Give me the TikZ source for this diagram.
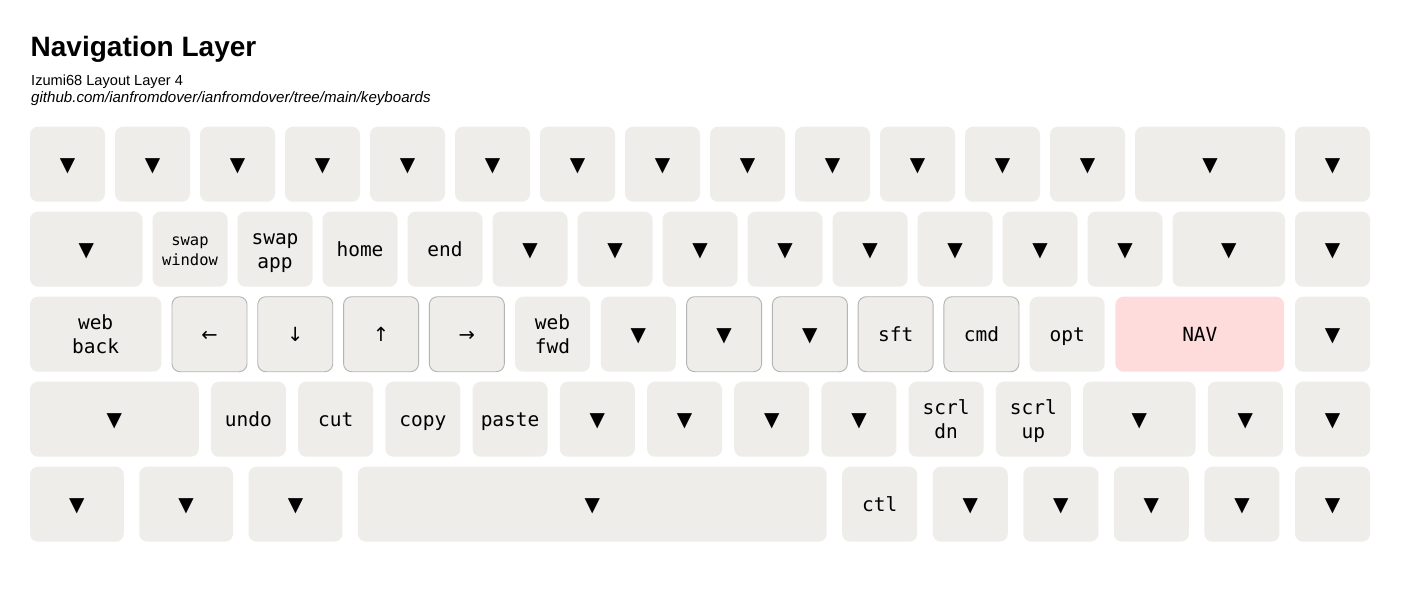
\documentclass[tikz,border=0pt]{standalone}
\usepackage{fontspec}
\setmainfont{Liberation Sans}
\newfontfamily\keymono{DejaVu Sans Mono}
\newfontfamily\keysym{DejaVu Sans}
\definecolor{keyfill}{HTML}{EEEDEA}
\definecolor{navfill}{HTML}{FFDCDC}
\definecolor{keyedge}{HTML}{B4B4B4}
\tikzset{
  keycap/.style={rounded corners=8pt, fill=keyfill, draw=none, minimum height=75pt,
    inner sep=0pt, outer sep=0pt, anchor=center, align=center,
    font=\keymono\fontsize{19.5}{24}\selectfont},
  edged/.style={draw=keyedge, line width=0.9pt},
  navkey/.style={fill=navfill},
  smalllabel/.style={font=\keymono\fontsize{15.5}{20}\selectfont},
  titletext/.style={anchor=base west, inner sep=0pt, font=\bfseries\fontsize{28}{30}\selectfont},
  subtext/.style={anchor=base west, inner sep=0pt, font=\fontsize{14.6}{18}\selectfont},
}
\newcommand\ks{\rule[-4.5pt]{0pt}{24pt}}
\newcommand\kssa{\rule[-4pt]{0pt}{18pt}}
\newcommand\kssb{\rule[-1.4pt]{0pt}{14pt}}
\newcommand\dn{{\keysym\fontsize{20}{24}\selectfont ▼}\ks}
\newcommand\arr[1]{{\keysym\fontsize{19.5}{24}\selectfont #1}\ks}
% #1 options, #2 name, #3 left x, #4 width, #5 centre y, #6 label
\newcommand\kk[6][]{\node[keycap,minimum width=#4pt,#1] (#2) at ({#3+#4/2},#5) {#6};}
\begin{document}
\begin{tikzpicture}[x=1pt,y=-1pt]
\fill[white] (0,0) rectangle (1401,611);
\useasboundingbox (0,0) rectangle (1401,611);

\node[titletext] (title) at (30.5,56.7) {Navigation Layer};
\node[subtext] (sub) at (31,85.5) {Izumi68 Layout Layer 4};
\node[subtext, font=\itshape\fontsize{15.1}{18}\selectfont] (link) at (31,102) {github.com/ianfromdover/ianfromdover/tree/main/keyboards};

% Row 1
\foreach \i in {0,...,12} {\kk{r1k\i}{30+85*\i}{75}{164.2}{\dn}}
\kk{r1k13}{1135}{150}{164.2}{\dn}
\kk{r1k14}{1295}{75}{164.2}{\dn}

% Row 2
\kk{r2k0}{30}{112.5}{249.2}{\dn}
\kk[smalllabel]{r2k1}{152.5}{75}{249.2}{\kssa swap\\window\kssb}
\kk{r2k2}{237.5}{75}{249.2}{swap\ks\\app\ks}
\kk{r2k3}{322.5}{75}{249.2}{home\ks}
\kk{r2k4}{407.5}{75}{249.2}{end\ks}
\foreach \i in {5,...,12} {\kk{r2k\i}{152.5+85*(\i-1)}{75}{249.2}{\dn}}
\kk{r2k13}{1172.5}{112.5}{249.2}{\dn}
\kk{r2k14}{1295}{75}{249.2}{\dn}

% Row 3
\kk{r3k0}{30}{131.25}{334.2}{web\ks\\back\ks}
\kk[edged]{r3k1}{172.02}{75}{334.2}{\arr{←}}
\kk[edged]{r3k2}{257.79}{75}{334.2}{\arr{↓}}
\kk[edged]{r3k3}{343.56}{75}{334.2}{\arr{↑}}
\kk[edged]{r3k4}{429.33}{75}{334.2}{\arr{→}}
\kk{r3k5}{515.10}{75}{334.2}{web\ks\\fwd\ks}
\kk{r3k6}{600.87}{75}{334.2}{\dn}
\kk[edged]{r3k7}{686.64}{75}{334.2}{\dn}
\kk[edged]{r3k8}{772.41}{75}{334.2}{\dn}
\kk[edged]{r3k9}{858.17}{75}{334.2}{sft\ks}
\kk[edged]{r3k10}{943.94}{75}{334.2}{cmd\ks}
\kk{r3k11}{1029.71}{75}{334.2}{opt\ks}
\kk[navkey]{r3k12}{1115.48}{168.75}{334.2}{NAV\ks}
\kk{r3k13}{1295}{75}{334.2}{\dn}

% Row 4
\kk{r4k0}{30}{168.75}{419.2}{\dn}
\kk{r4k1}{210.96}{75}{419.2}{undo\ks}
\kk{r4k2}{298.17}{75}{419.2}{cut\ks}
\kk{r4k3}{385.38}{75}{419.2}{copy\ks}
\kk{r4k4}{472.60}{75}{419.2}{paste\ks}
\kk{r4k5}{559.81}{75}{419.2}{\dn}
\kk{r4k6}{647.02}{75}{419.2}{\dn}
\kk{r4k7}{734.23}{75}{419.2}{\dn}
\kk{r4k8}{821.44}{75}{419.2}{\dn}
\kk{r4k9}{908.65}{75}{419.2}{scrl\ks\\dn\ks}
\kk{r4k10}{995.87}{75}{419.2}{scrl\ks\\up\ks}
\kk{r4k11}{1083.08}{112.5}{419.2}{\dn}
\kk{r4k12}{1207.79}{75}{419.2}{\dn}
\kk{r4k13}{1295}{75}{419.2}{\dn}

% Row 5
\kk{r5k0}{30}{93.75}{504.2}{\dn}
\kk{r5k1}{139.31}{93.75}{504.2}{\dn}
\kk{r5k2}{248.61}{93.75}{504.2}{\dn}
\kk{r5k3}{357.92}{468.75}{504.2}{\dn}
\kk{r5k4}{842.22}{75}{504.2}{ctl\ks}
\kk{r5k5}{932.78}{75}{504.2}{\dn}
\kk{r5k6}{1023.33}{75}{504.2}{\dn}
\kk{r5k7}{1113.89}{75}{504.2}{\dn}
\kk{r5k8}{1204.44}{75}{504.2}{\dn}
\kk{r5k9}{1295}{75}{504.2}{\dn}
\end{tikzpicture}
\end{document}
